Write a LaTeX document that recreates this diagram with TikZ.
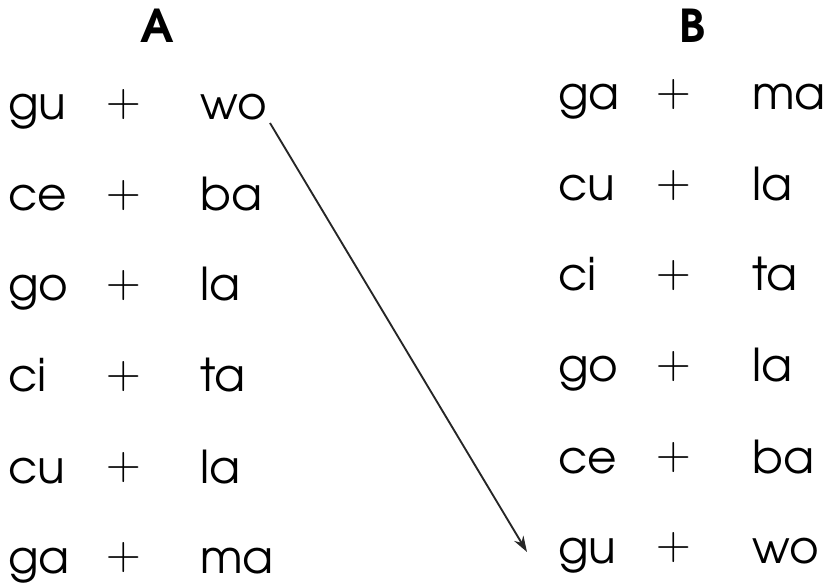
\documentclass[tikz,border=0pt]{standalone}
\usepackage{fontspec}
\setmainfont{TeX Gyre Adventor}
\newfontfamily\plusfont{Latin Modern Roman}
\usepackage{tikz}
\usetikzlibrary{
  arrows.meta,
  positioning
}
\tikzset{
  syl/.style={
    anchor=base west,
    inner sep=0pt,
    font=\fontsize{34}{36}\selectfont,
  },
  plus/.style={
    anchor=base,
    inner sep=0pt,
    yshift=2.5pt,
    font=\plusfont\fontsize{36}{38}\selectfont,
  },
  colhead/.style={
    anchor=base,
    inner sep=0pt,
    font=\fontsize{34}{36}\selectfont\bfseries,
  },
  arr/.style={
    -{Stealth[length=12pt,width=8pt]},
    line width=1.4pt,
    draw=black!85,
  },
}

\begin{document}
\begin{tikzpicture}[
  x=0.75pt, y=-0.75pt,
]
  \useasboundingbox (0,0) rectangle (828,584);

  % Column A
  \node[colhead] (hA) at (157,43) {A};
  \node[syl]  (a1l) at (8,120)   {gu};
  \node[plus] (a1p) at (124,120) {+};
  \node[syl]  (a1r) at (200,120) {wo};
  \node[syl]  (a2l) at (8,211)   {ce};
  \node[plus] (a2p) at (124,211) {+};
  \node[syl]  (a2r) at (200,211) {ba};
  \node[syl]  (a3l) at (8,301)   {go};
  \node[plus] (a3p) at (124,301) {+};
  \node[syl]  (a3r) at (200,301) {la};
  \node[syl]  (a4l) at (8,392)   {ci};
  \node[plus] (a4p) at (124,392) {+};
  \node[syl]  (a4r) at (200,392) {ta};
  \node[syl]  (a5l) at (8,483)   {cu};
  \node[plus] (a5p) at (124,483) {+};
  \node[syl]  (a5r) at (200,483) {la};
  \node[syl]  (a6l) at (8,573)   {ga};
  \node[plus] (a6p) at (124,573) {+};
  \node[syl]  (a6r) at (200,573) {ma};

  % Column B
  \node[colhead] (hB) at (693,43) {B};
  \node[syl]  (b1l) at (558,110) {ga};
  \node[plus] (b1p) at (674,110) {+};
  \node[syl]  (b1r) at (752,110) {ma};
  \node[syl]  (b2l) at (558,201) {cu};
  \node[plus] (b2p) at (674,201) {+};
  \node[syl]  (b2r) at (752,201) {la};
  \node[syl]  (b3l) at (558,291) {ci};
  \node[plus] (b3p) at (674,291) {+};
  \node[syl]  (b3r) at (752,291) {ta};
  \node[syl]  (b4l) at (558,382) {go};
  \node[plus] (b4p) at (674,382) {+};
  \node[syl]  (b4r) at (752,382) {la};
  \node[syl]  (b5l) at (558,473) {ce};
  \node[plus] (b5p) at (674,473) {+};
  \node[syl]  (b5r) at (752,473) {ba};
  \node[syl]  (b6l) at (558,563) {gu};
  \node[plus] (b6p) at (674,563) {+};
  \node[syl]  (b6r) at (752,563) {wo};

  % reordering arrow
  \draw[arr] ([shift={(3,3)}]a1r.base east) -- ([shift={(-31,-11)}]b6l.base west);
\end{tikzpicture}
\end{document}
